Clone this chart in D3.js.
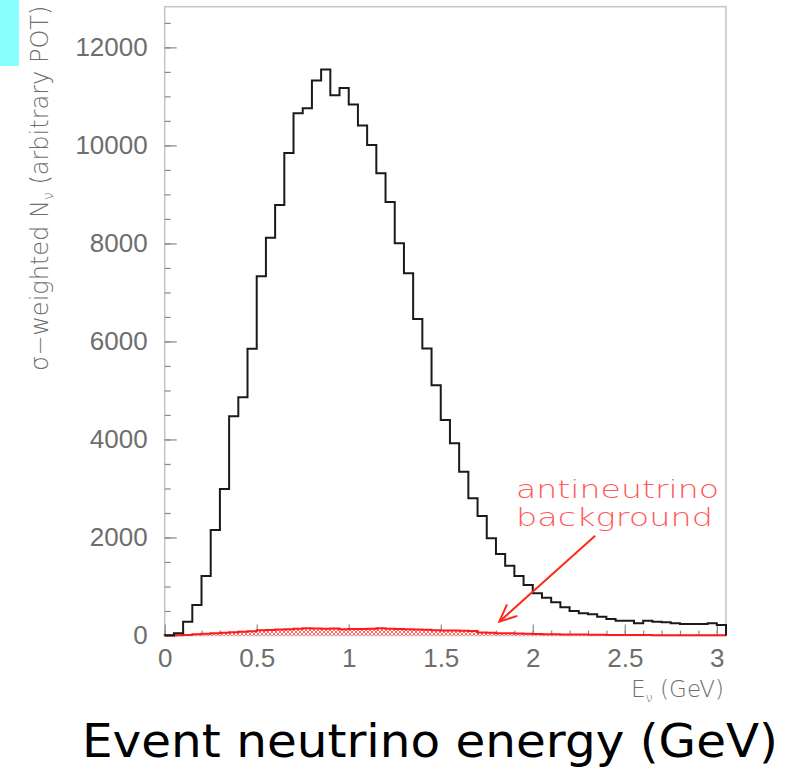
<!DOCTYPE html>
<html>
<head>
<meta charset="UTF-8">
<title>Event neutrino energy</title>
<style>
  body { margin: 0; background: #fff; }
  svg { display: block; }
</style>
</head>
<body>
<script src="https://cdn.jsdelivr.net/npm/d3@7"></script>
<script>
  // bin width 0.05 GeV, 61 bins from 0 to 3.05
  var binWidth = 0.05;
  var xMax = 3.05;
  var yMax = 12830;

  var neutrinoCounts = [
    5, 45, 282, 622, 1214, 2153, 2990, 4473, 4861, 5853,
    7331, 8118, 8786, 9847, 10657, 10759, 11323, 11547, 11024, 11173,
    10833, 10404, 10010, 9433, 8847, 8004, 7392, 6459, 5855, 5106,
    4398, 3922, 3343, 2800, 2439, 1983, 1663, 1425, 1214, 1031,
    861, 772, 677, 575, 500, 453, 432, 384, 337, 302,
    302, 249, 302, 282, 269, 249, 235, 235, 235, 249,
    214
  ];

  var antiCounts = [
    0, 5, 10, 25, 35, 45, 55, 65, 75, 85,
    105, 110, 120, 125, 140, 150, 145, 140, 145, 125,
    135, 135, 140, 150, 140, 135, 125, 120, 115, 105,
    100, 100, 95, 90, 60, 55, 45, 45, 40, 35,
    30, 28, 25, 22, 20, 18, 16, 14, 12, 11,
    10, 9, 8, 7, 6, 6, 5, 5, 4, 4,
    4
  ];

  var yTickValues = [0, 2000, 4000, 6000, 8000, 10000, 12000];
  var xTickValues = [0, 0.5, 1, 1.5, 2, 2.5, 3];

  // arrow: start (label side) and tip, in data units
  var arrowFrom = [2.339, 2037];
  var arrowTo = [1.818, 282];

  var W = 802, H = 772;
  var margin = { top: 6.7, right: 76, bottom: 136.5, left: 164.7 };

  var svg = d3.select("body").append("svg")
    .attr("width", W)
    .attr("height", H)
    .style("font-family", "'DejaVu Sans', sans-serif");

  var x = d3.scaleLinear().domain([0, xMax]).range([margin.left, W - margin.right]);
  var y = d3.scaleLinear().domain([0, yMax]).range([H - margin.bottom, margin.top]);

  // cyan block top-left
  svg.append("rect")
    .attr("x", 0).attr("y", 0)
    .attr("width", 19).attr("height", 66)
    .attr("fill", "#88ffff");

  // hatch pattern for background
  var defs = svg.append("defs");
  var pat = defs.append("pattern")
    .attr("id", "hatch")
    .attr("patternUnits", "userSpaceOnUse")
    .attr("width", 4).attr("height", 4);
  pat.append("rect").attr("width", 4).attr("height", 4).attr("fill", "#fff");
  pat.append("path")
    .attr("d", "M0,0L4,4M4,0L0,4")
    .attr("stroke", "#ff4040")
    .attr("stroke-width", 0.8);

  // frame
  svg.append("rect")
    .attr("x", x(0)).attr("y", y(yMax))
    .attr("width", x(xMax) - x(0))
    .attr("height", y(0) - y(yMax))
    .attr("fill", "none")
    .attr("stroke", "#c4c4c4")
    .attr("stroke-width", 1.5);

  // step points helper
  function steps(vals) {
    var pts = vals.map(function(v, i) { return [i * binWidth, v]; });
    pts.push([vals.length * binWidth, vals[vals.length - 1]]);
    return [[0, 0]].concat(pts).concat([[vals.length * binWidth, 0]]);
  }

  var stepLine = d3.line()
    .x(function(d) { return x(d[0]); })
    .y(function(d) { return y(d[1]); })
    .curve(d3.curveStepAfter);

  var stepArea = d3.area()
    .x(function(d) { return x(d[0]); })
    .y0(y(0))
    .y1(function(d) { return y(d[1]); })
    .curve(d3.curveStepAfter);

  // axes (ticks inward, ROOT style)
  function styleAxis(g) {
    g.select(".domain").remove();
    g.selectAll(".tick line").attr("stroke", "#8a8a8a").attr("stroke-width", 1.2);
    g.selectAll(".tick text")
      .attr("fill", "#6e6e6e")
      .style("font-size", "26px")
      .style("font-weight", 200);
  }

  svg.append("g")
    .attr("transform", "translate(" + x(0) + ",0)")
    .call(d3.axisLeft(y).tickValues(d3.range(0, yMax, 500)).tickSize(-6).tickFormat(""))
    .call(styleAxis);

  svg.append("g")
    .attr("transform", "translate(" + x(0) + ",0)")
    .call(d3.axisLeft(y).tickValues(yTickValues).tickSize(-12).tickPadding(17).tickFormat(d3.format("d")))
    .call(styleAxis);

  svg.append("g")
    .attr("transform", "translate(0," + y(0) + ")")
    .call(d3.axisBottom(x).tickValues(d3.range(0, 30.5, 1).map(function(d) { return d / 10; })).tickSize(-5).tickFormat(""))
    .call(styleAxis);

  svg.append("g")
    .attr("transform", "translate(0," + y(0) + ")")
    .call(d3.axisBottom(x).tickValues(xTickValues).tickSize(-11).tickPadding(13).tickFormat(d3.format("")))
    .call(styleAxis);

  // antineutrino background (hatched)
  svg.append("path")
    .datum(steps(antiCounts))
    .attr("d", stepArea)
    .attr("fill", "url(#hatch)");
  svg.append("path")
    .datum(steps(antiCounts))
    .attr("d", stepLine)
    .attr("fill", "none")
    .attr("stroke", "#ff1a1a")
    .attr("stroke-width", 2);

  // neutrino histogram
  svg.append("path")
    .datum(steps(neutrinoCounts))
    .attr("d", stepLine)
    .attr("fill", "none")
    .attr("stroke", "#1a1a1a")
    .attr("stroke-width", 2);

  // annotation
  var ann = svg.append("g")
    .attr("fill", "#ff5a5a")
    .style("font-size", "25px")
    .style("font-weight", 200);
  ann.append("text")
    .attr("x", 516).attr("y", 498)
    .attr("textLength", 203).attr("lengthAdjust", "spacingAndGlyphs")
    .text("antineutrino");
  ann.append("text")
    .attr("x", 516).attr("y", 526)
    .attr("textLength", 197).attr("lengthAdjust", "spacingAndGlyphs")
    .text("background");

  var ax0 = x(arrowFrom[0]), ay0 = y(arrowFrom[1]);
  var ax1 = x(arrowTo[0]), ay1 = y(arrowTo[1]);
  var ang = Math.atan2(ay1 - ay0, ax1 - ax0);
  var headLen = 19, headAng = 0.42;
  var arrow = svg.append("g")
    .attr("stroke", "#ff2a1a")
    .attr("stroke-width", 2)
    .attr("fill", "none");
  arrow.append("line")
    .attr("x1", ax0).attr("y1", ay0)
    .attr("x2", ax1).attr("y2", ay1);
  arrow.append("path")
    .attr("d", "M" + (ax1 - headLen * Math.cos(ang - headAng)) + "," + (ay1 - headLen * Math.sin(ang - headAng)) +
      "L" + ax1 + "," + ay1 +
      "L" + (ax1 - headLen * Math.cos(ang + headAng)) + "," + (ay1 - headLen * Math.sin(ang + headAng)));

  // axis titles
  var xt = svg.append("text")
    .attr("x", x(xMax) - 2).attr("y", 697)
    .attr("text-anchor", "end")
    .attr("fill", "#6e6e6e")
    .style("font-size", "23px")
    .style("font-weight", 200);
  xt.append("tspan").text("E");
  xt.append("tspan").attr("dy", 5).style("font-size", "13px").text("ν");
  xt.append("tspan").attr("dy", -5).text(" (GeV)");

  var yt = svg.append("text")
    .attr("transform", "translate(48," + (y(yMax) - 1) + ") rotate(-90)")
    .attr("text-anchor", "end")
    .attr("fill", "#6e6e6e")
    .style("font-size", "24px")
    .style("font-weight", 200);
  yt.append("tspan").text("σ−weighted N");
  yt.append("tspan").attr("dy", 5).style("font-size", "14px").text("ν");
  yt.append("tspan").attr("dy", -5).text(" (arbitrary POT)");

  // big caption
  svg.append("text")
    .attr("x", 82).attr("y", 757)
    .attr("textLength", 696).attr("lengthAdjust", "spacingAndGlyphs")
    .attr("fill", "#000")
    .style("font-size", "46px")
    .text("Event neutrino energy (GeV)");
</script>
</body>
</html>
